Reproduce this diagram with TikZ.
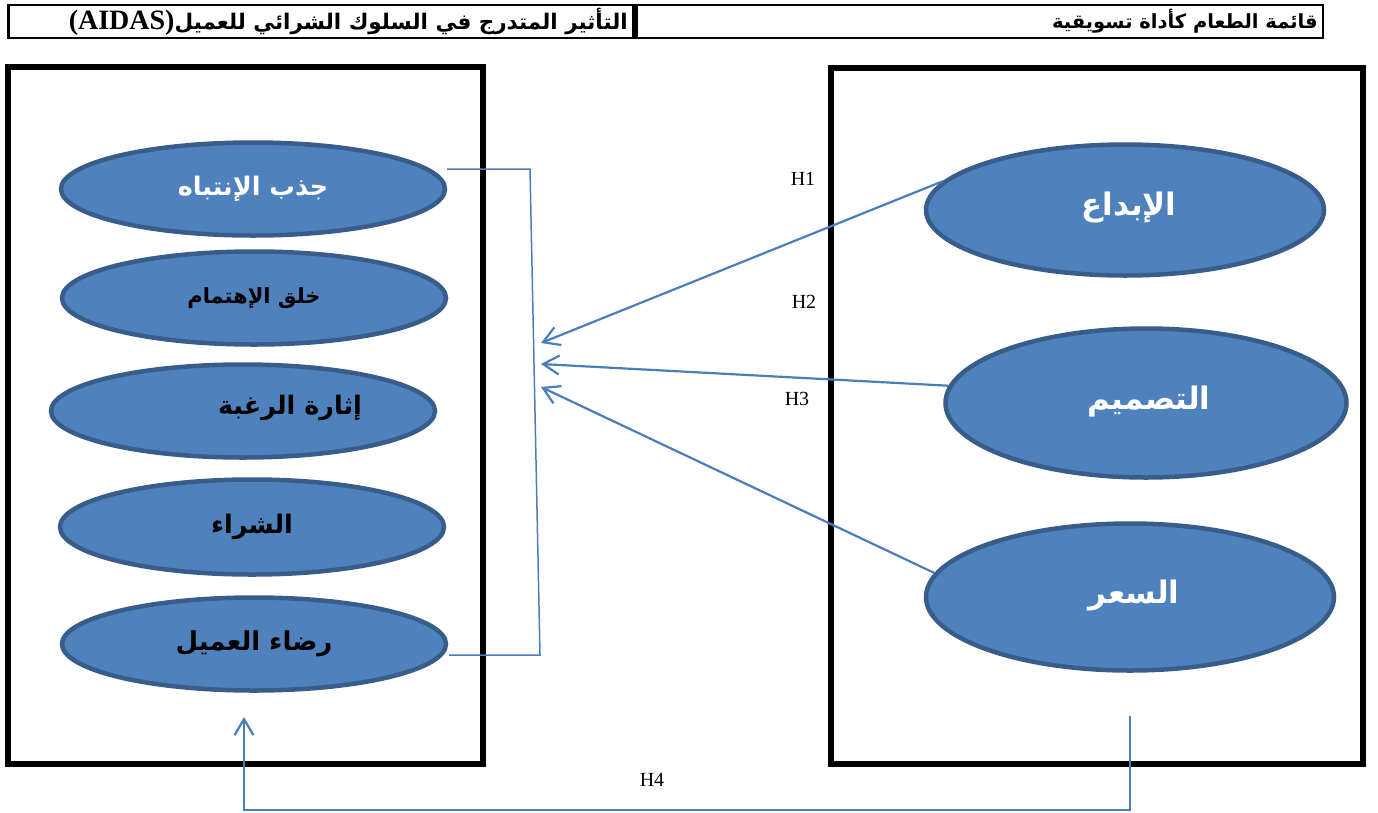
\documentclass[tikz,border=0pt]{standalone}
\usepackage{fontspec}
\setmainfont{Liberation Serif}
\newfontfamily\arabicfont[Script=Arabic]{DejaVu Sans}
\TeXXeTstate=1
\usetikzlibrary{shapes.geometric,arrows.meta,calc}
\definecolor{efill}{HTML}{4F81BD}
\definecolor{edraw}{HTML}{385D8A}
\definecolor{conn}{HTML}{4A7EBB}
\begin{document}
\begin{tikzpicture}[x=1pt,y=-1pt,
  ell/.style={ellipse, fill=efill, draw=edraw, line width=4.5pt, inner sep=0pt},
  leftell/.style={ell, minimum width=384pt, minimum height=93pt},
  ltxt/.style={font=\fontsize{25.5}{30}\arabicfont\bfseries},
  rtxt/.style={font=\fontsize{31}{36}\arabicfont\bfseries, text=white, inner sep=0pt},
  htxt/.style={font=\fontsize{21.5}{26}\arabicfont\bfseries, inner sep=0pt},
  frame/.style={draw=black, line width=6pt},
  conline/.style={draw=conn, line width=1.5pt},
  arr/.style={draw=conn, line width=2.2pt, -{Straight Barb[length=16pt,width=19pt]}},
  hlab/.style={font=\fontsize{20}{24}\selectfont, inner sep=0pt}
]
\useasboundingbox (0,0) rectangle (1378,812);
% header table
\draw[line width=2.5pt] (8.5,5) rectangle (1323,38);
\draw[line width=6pt] (635,5) -- (635,38);
\node[htxt, anchor=east] (hl) at (628,22) {\beginR التأثير المتدرج في السلوك الشرائي للعميل\beginL{\fontsize{28}{30}\rmfamily\bfseries(AIDAS)}\endL\endR};
\node[htxt, anchor=east, font=\fontsize{19.5}{24}\arabicfont\bfseries] (hr) at (1318,21) {\beginR قائمة الطعام كأداة تسويقية\endR};
% frames
\draw[frame] (8,67) rectangle (483,764);
\draw[frame] (831,68) rectangle (1363,764);
% left ellipses
\node[leftell, ltxt, text=white] (a1) at (253,189) {\beginR جذب الإنتباه\endR};
\node[leftell, ltxt, font=\fontsize{21}{24}\arabicfont\bfseries] (a2) at (254,298) {\beginR خلق الإهتمام\endR};
\node[leftell] (a3) at (243,411) {};
\node[ltxt, inner sep=0pt] (a3t) at (290,408) {\beginR إثارة الرغبة\endR};
\node[leftell, ltxt, minimum height=95pt] (a4) at (252,527) {\beginR الشراء\endR};
\node[leftell, ltxt, font=\fontsize{26}{30}\arabicfont\bfseries] (a5) at (254,644) {\beginR رضاء العميل\endR};
% right ellipses
\node[ell, minimum width=398pt, minimum height=131pt] (r1) at (1125,210) {};
\node[ell, minimum width=401pt, minimum height=149pt] (r2) at (1146,403) {};
\node[ell, minimum width=408pt, minimum height=147pt] (r3) at (1130,597) {};
\node[rtxt] (r1t) at (1129,208) {\beginR الإبداع\endR};
\node[rtxt] (r2t) at (1149,401) {\beginR التصميم\endR};
\node[rtxt] (r3t) at (1134,595) {\beginR السعر\endR};
% bracket
\draw[conline] ($(a1.center)+(194,-20)$) -- (530,169) -- (540,655) -- ($(a5.center)+(195,11)$);
% arrows
\coordinate (t1) at (541,343);
\coordinate (t2) at (541,364);
\coordinate (t3) at (541,387);
\draw[arr] (r1.171) -- (t1);
\draw[arr] (r2.175) -- (t2);
\draw[arr] (r3.173) -- (t3);
\coordinate (h4s) at (1130,716);
\coordinate (h4e) at (244,717);
\draw[arr] (h4s) -- (1130,810) -- (244,810) -- (h4e);
% labels
\node[hlab] (h1) at (803,179) {H1};
\node[hlab] (h2) at (804,302) {H2};
\node[hlab] (h3) at (797,399) {H3};
\node[hlab] (h4) at (652,780) {H4};
\end{tikzpicture}
\end{document}
